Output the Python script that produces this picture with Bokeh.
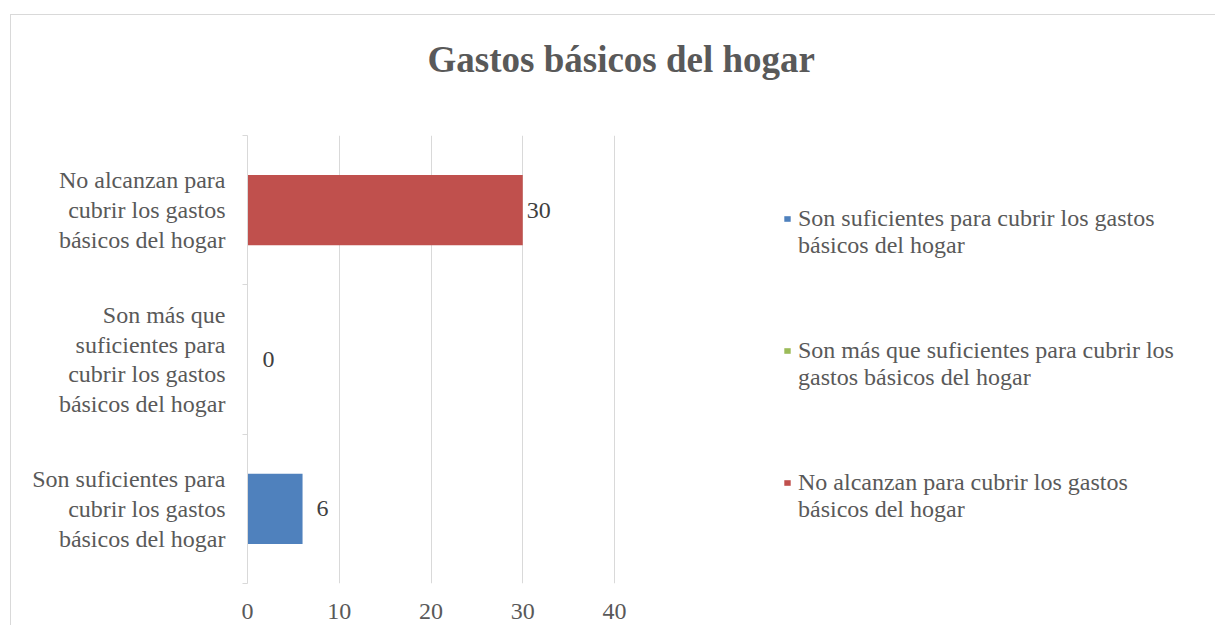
from bokeh.plotting import figure
from bokeh.models import (ColumnDataSource, Range1d, LinearAxis, FixedTicker, Title,
                          Legend, LegendItem)
from bokeh.core.properties import value
from bokeh.embed import file_html
from bokeh.resources import INLINE

# ---------------- data ----------------
categories = [
    "Son suficientes para\ncubrir los gastos\nbásicos del hogar",
    "Son más que\nsuficientes para\ncubrir los gastos\nbásicos del hogar",
    "No alcanzan para\ncubrir los gastos\nbásicos del hogar",
]
legend_labels = [
    "Son suficientes para cubrir los gastos\nbásicos del hogar",
    "Son más que suficientes para cubrir los\ngastos básicos del hogar",
    "No alcanzan para cubrir los gastos\nbásicos del hogar",
]
values = [6, 0, 30]
colors = ["#4F81BD", "#9BBB59", "#C0504D"]
x_ticks = [0, 10, 20, 30, 40]
title_text = "Gastos básicos del hogar"

FONT = "Liberation Serif"
GRAY = "#595959"

n = len(categories)
centers = [i + 0.5 for i in range(n)]      # category slot centers on the y scale
bounds = list(range(n + 1))               # category slot boundaries

src = ColumnDataSource(dict(
    y=centers, val=values, col=colors,
    txt=[str(v) for v in values],
    off=[14, 15, 4],
))

# layout: plot area spans x 247..614 for 0..40; the area to its right holds the legend
W, H = 1215, 625
FL, FR = 247, 614
x_end = x_ticks[-1] * (W - FL) / (FR - FL)

p = figure(width=W, height=H, output_backend="svg", toolbar_location=None,
           y_range=Range1d(0, n), x_range=Range1d(x_ticks[0], x_end),
           x_axis_location=None, y_axis_location=None, title=None)
p.min_border_left = FL
p.min_border_right = 0
p.min_border_top = 133
p.min_border_bottom = H - 583
p.outline_line_color = None
p.border_fill_color = None
p.background_fill_color = None
p.styles = {
    "background-image": "linear-gradient(#d9d9d9, #d9d9d9), linear-gradient(#d9d9d9, #d9d9d9)",
    "background-size": "1px 100%, 100% 1px",
    "background-position": "10px 14px, 10px 14px",
    "background-repeat": "no-repeat",
}

# x axis (bottom)
xa = LinearAxis(ticker=FixedTicker(ticks=x_ticks))
xa.axis_line_color = None
xa.major_tick_line_color = None
xa.minor_tick_line_color = None
xa.major_label_text_font = FONT
xa.major_label_text_font_size = "24px"
xa.major_label_text_color = GRAY
xa.major_label_standoff = 14
p.add_layout(xa, "below")

# y axis: category labels at slot centers, small ticks at slot boundaries
ya = LinearAxis(ticker=FixedTicker(ticks=centers, minor_ticks=bounds))
ya.major_label_overrides = {c: lab for c, lab in zip(centers, categories)}
ya.axis_line_color = "#d9d9d9"
ya.minor_tick_line_color = "#d9d9d9"
ya.minor_tick_out = 5
ya.minor_tick_in = 0
ya.major_tick_line_color = None
ya.major_tick_out = 0
ya.major_tick_in = 0
ya.major_label_text_font = FONT
ya.major_label_text_font_size = "24px"
ya.major_label_text_color = GRAY
ya.major_label_text_line_height = 1.15
ya.major_label_standoff = 17
p.add_layout(ya, "left")

p.xgrid.grid_line_color = "#d9d9d9"
p.xgrid.ticker = FixedTicker(ticks=x_ticks)
p.ygrid.grid_line_color = None

r = p.hbar(y="y", right="val", left=0, height=0.47, source=src,
           fill_color="col", line_color=None)
# transparent twin of the bars, used only by the legend's second text lines
r_ghost = p.hbar(y="y", right="val", left=0, height=0.47, source=src,
                 fill_alpha=0, line_alpha=0)

p.text(x="val", y="y", text="txt", source=src, x_offset="off",
       text_font=value(FONT), text_font_size="24px", text_color="#404040",
       text_baseline="middle", text_align="left")

# legend: square + first line, and a transparent-glyph legend for the second lines
first_lines = [s.split("\n")[0] for s in legend_labels]
second_lines = [s.split("\n")[1] for s in legend_labels]

def make_legend(lines, renderer, loc):
    lg = Legend(items=[LegendItem(label=t, renderers=[renderer], index=i)
                       for i, t in enumerate(lines)])
    lg.location = loc
    lg.padding = 0
    lg.margin = 0
    lg.spacing = 105
    lg.border_line_color = None
    lg.background_fill_color = None
    lg.background_fill_alpha = 0
    lg.glyph_width = 8
    lg.glyph_height = 7
    lg.label_standoff = 7
    lg.label_text_font = FONT
    lg.label_text_font_size = "24px"
    lg.label_text_color = GRAY
    lg.label_height = 27
    return lg

p.add_layout(make_legend(first_lines, r, (783 - FL, 87)), "center")
p.add_layout(make_legend(second_lines, r_ghost, (783 - FL, 60)), "center")

# spacer between frame and title, then the title itself
p.add_layout(Title(text=" ", text_font_size="1px", standoff=16), "above")
t = Title(text=title_text, align="left", offset=180, standoff=73,
          text_font=FONT, text_font_size="37px", text_font_style="bold", text_color=GRAY)
p.add_layout(t, "above")

open("out.html", "w").write(file_html(p, INLINE))
